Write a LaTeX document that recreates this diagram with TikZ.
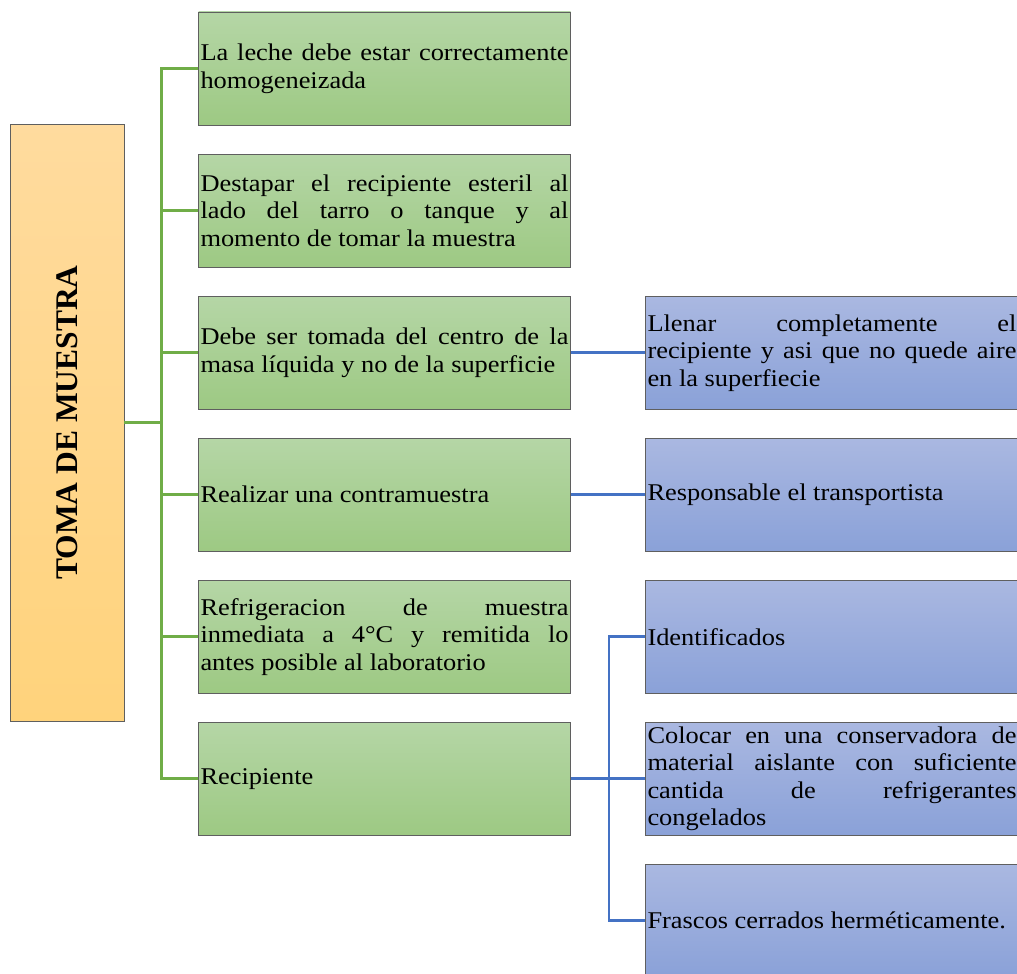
\documentclass[tikz,border=0pt]{standalone}
\usepackage{graphicx}
\usepackage{fontspec}
\setmainfont[FakeStretch=1.1]{Liberation Serif}
\newfontfamily\titlefont{Liberation Serif}
\definecolor{gtop}{HTML}{B5D6A6}
\definecolor{gbot}{HTML}{9DC983}
\definecolor{btop}{HTML}{AAB8E1}
\definecolor{bbot}{HTML}{8AA1D8}
\definecolor{otop}{HTML}{FFDB9E}
\definecolor{obot}{HTML}{FFD37C}
\definecolor{boxborder}{HTML}{5F5F5F}
\definecolor{gline}{HTML}{70AD47}
\definecolor{bline}{HTML}{4472C4}
\tikzset{
  box/.style={draw=boxborder, line width=0.9pt, rectangle, minimum height=113.5pt,
    inner xsep=2pt, inner ysep=0pt, align=justify, anchor=center,
    font=\fontsize{24}{27.5}\selectfont},
  gbox/.style={box, text width=368pt, top color=gtop, bottom color=gbot},
  bbox/.style={box, text width=369pt, top color=btop, bottom color=bbot},
  titlebox/.style={draw=boxborder, line width=0.9pt, rectangle, minimum width=114pt,
    minimum height=597pt, inner sep=0pt, top color=otop, bottom color=obot,
    font=\titlefont\bfseries\fontsize{31.5}{36}\selectfont},
  gconn/.style={draw=gline, line width=3pt},
  bconn/.style={draw=bline, line width=2.8pt}
}
\begin{document}
\begin{tikzpicture}[x=1pt,y=-1pt]
\useasboundingbox (0,0) rectangle (1017,974);
\node[titlebox] (title) at (67,422.5) {\rotatebox{90}{TOMA DE MUESTRA}};
\node[gbox] (g1) at (384.5,68.75) {La leche debe estar correctamente\linebreak homogeneizada};
\node[gbox] (g2) at (384.5,210.75) {Destapar el recipiente esteril al\linebreak lado del tarro o tanque y al\linebreak momento de tomar la muestra};
\node[gbox] (g3) at (384.5,352.75) {Debe ser tomada del centro de la\linebreak masa líquida y no de la superficie};
\node[gbox] (g4) at (384.5,494.75) {Realizar una contramuestra};
\node[gbox] (g5) at (384.5,636.75) {Refrigeracion de muestra\linebreak inmediata a 4°C y remitida lo\linebreak antes posible al laboratorio};
\node[gbox] (g6) at (384.5,778.75) {Recipiente};
\node[bbox] (b1) at (832,352.75) {Llenar completamente el\linebreak recipiente y asi que no quede aire\linebreak en la superfiecie};
\node[bbox] (b2) at (832,494.75) {Responsable el transportista};
\node[bbox] (b3) at (832,636.75) {Identificados};
\node[bbox] (b4) at (832,778.75) {Colocar en una conservadora de\linebreak material aislante con suficiente\linebreak cantida de refrigerantes\linebreak congelados};
\node[bbox] (b5) at (832,920.75) {Frascos cerrados herméticamente.};
% green connectors
\draw[gconn] (title.east) -- ++(37,0) coordinate (gj);
\foreach \n in {g1,g2,g3,g4,g5,g6} {\draw[gconn] (gj) |- (\n.west);}
% blue connectors
\draw[bconn] (g3.east) -- (b1.west);
\draw[bconn] (g4.east) -- (b2.west);
\draw[bconn] (g6.east) -- ++(38,0) coordinate (bj);
\foreach \n in {b3,b4,b5} {\draw[bconn] (bj) |- (\n.west);}
\end{tikzpicture}
\end{document}
